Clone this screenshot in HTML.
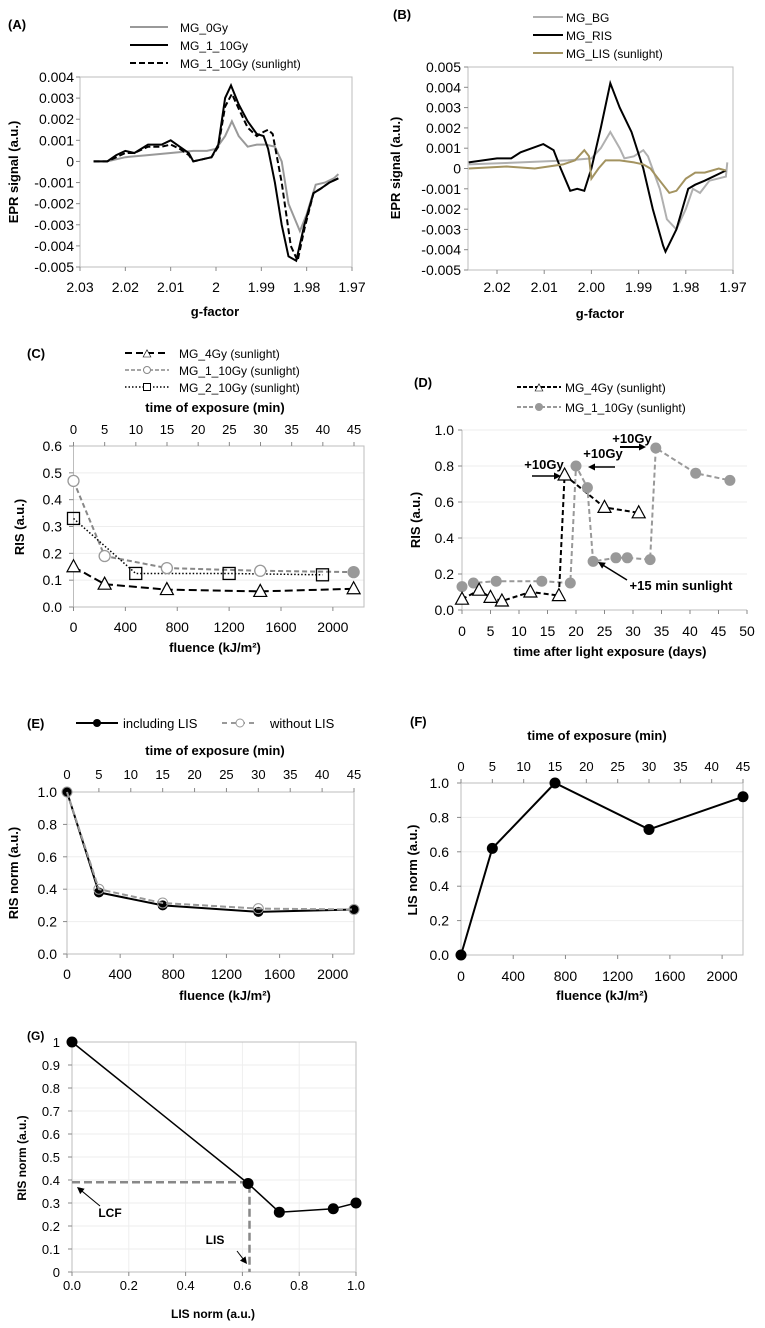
<!DOCTYPE html>
<html><head><meta charset="utf-8"><style>
html,body{margin:0;padding:0;background:#fff}
svg{display:block;font-family:"Liberation Sans Narrow","Liberation Sans",sans-serif}
</style></head><body>
<svg id="fig" width="765" height="1328" viewBox="0 0 765 1328" xmlns="http://www.w3.org/2000/svg"></svg>
<script>
// ---------- data ----------
// Panel A
const aG0 = [2.027,2.024,2.02,2.015,2.01,2.005,2.002,2.0,1.998,1.9965,1.995,1.993,1.991,1.989,1.987,1.9855,1.984,1.9815,1.98,1.978,1.976,1.974,1.973];
const aV0 = [0,0,0.0002,0.0003,0.0004,0.0005,0.0005,0.0006,0.0012,0.0019,0.0012,0.0007,0.0008,0.0008,0.0007,0.0,-0.002,-0.0033,-0.0025,-0.0011,-0.001,-0.0008,-0.0006];
const aG1 = [2.027,2.024,2.022,2.02,2.018,2.015,2.012,2.01,2.008,2.006,2.005,2.003,2.001,1.9995,1.998,1.9967,1.995,1.993,1.991,1.9895,1.9885,1.987,1.9855,1.984,1.9823,1.9805,1.9785,1.977,1.975,1.973];
const aV1 = [0,0,0.0003,0.0005,0.0004,0.0008,0.0008,0.001,0.0007,0.0004,0.0,0.0001,0.0002,0.0008,0.003,0.0036,0.0027,0.0019,0.0013,0.0012,0.0006,-0.001,-0.003,-0.0045,-0.0047,-0.003,-0.0015,-0.0013,-0.001,-0.0008];
const aG2 = [2.027,2.024,2.022,2.02,2.018,2.015,2.012,2.01,2.008,2.006,2.005,2.003,2.001,1.9995,1.998,1.9965,1.995,1.993,1.991,1.9895,1.9885,1.9875,1.9855,1.9835,1.982,1.9805,1.9785,1.977,1.975,1.973];
const aV2 = [0,0,0.0002,0.0004,0.0004,0.0007,0.0007,0.0008,0.0006,0.0003,0.0,0.0001,0.0002,0.0007,0.0026,0.0032,0.0025,0.0016,0.0012,0.0014,0.0015,0.0013,-0.001,-0.004,-0.0047,-0.0032,-0.0015,-0.0013,-0.001,-0.0008];
// Panel B
const bGbg = [2.026,2.015,2.005,2.0,1.998,1.996,1.994,1.993,1.991,1.989,1.988,1.9855,1.984,1.982,1.98,1.9785,1.977,1.975,1.9715,1.9712];
const bVbg = [0.0002,0.0003,0.0004,0.0005,0.001,0.0018,0.001,0.0005,0.0006,0.0009,0.0006,-0.001,-0.0025,-0.003,-0.002,-0.001,-0.0012,-0.0006,-0.0004,0.0003];
const bGris = [2.026,2.02,2.017,2.015,2.0102,2.008,2.0065,2.0045,2.003,2.0015,2.0,1.998,1.996,1.994,1.9915,1.989,1.987,1.9848,1.9843,1.982,1.9795,1.978,1.976,1.9715];
const bVris = [0.0003,0.0005,0.0005,0.0008,0.0012,0.0009,0.0,-0.0011,-0.001,-0.0011,0.0,0.002,0.0042,0.003,0.0018,0.0,-0.002,-0.0038,-0.0041,-0.003,-0.001,-0.0008,-0.0006,-0.0001];
const bGlis = [2.026,2.018,2.012,2.006,2.0035,2.0015,2.0005,2.0,1.9985,1.997,1.994,1.991,1.989,1.9875,1.9855,1.9835,1.982,1.98,1.978,1.976,1.973,1.9715];
const bVlis = [0,0.0001,0,0.0002,0.0004,0.0009,0.0006,-0.0005,0,0.0004,0.0004,0.0003,0.0002,0,-0.0006,-0.0012,-0.0011,-0.0005,-0.0002,-0.0002,0,-0.0001];
// Panel C
const cF4 = [0,240,720,1440,2160];
const cV4 = [0.15,0.085,0.065,0.058,0.068];
const cF1 = [0,240,720,1440,2160];
const cV1 = [0.47,0.19,0.145,0.135,0.13];
const cF2 = [0,480,1200,1920];
const cV2 = [0.33,0.125,0.125,0.12];
// Panel D
const dD4 = [0,3,5,7,12,17,18,25,31];
const dV4 = [0.06,0.11,0.07,0.05,0.10,0.08,0.75,0.57,0.54];
const dD1 = [0,2,6,14,19,20,22,23,27,29,33,34,41,47];
const dV1 = [0.13,0.15,0.16,0.16,0.15,0.80,0.68,0.27,0.29,0.29,0.28,0.90,0.76,0.72];
// Panel E
const eF = [0,240,720,1440,2160];
const eInc = [1.0,0.38,0.30,0.26,0.275];
const eWo = [1.0,0.40,0.315,0.28,0.275];
// Panel F
const fF = [0,240,720,1440,2160];
const fL = [0,0.62,1.0,0.73,0.92];
// Panel G
const gL = [0,0.62,0.73,0.92,1.0];
const gR = [1.0,0.385,0.26,0.275,0.30];
const gLcf = 0.39;
const gLis = 0.625;
// tick labels
const minTicks = [0,5,10,15,20,25,30,35,40,45];
const fluTicks = [0,400,800,1200,1600,2000];

// ---------- helpers ----------
const NS='http://www.w3.org/2000/svg';
const S=document.getElementById('fig');
function add(tag,attrs,name,parent){
  const el=document.createElementNS(NS,tag);
  for(const k in attrs) el.setAttribute(k,attrs[k]);
  
  
  (parent||S).appendChild(el);
  return el;
}
function txt(x,y,s,o,name){
  o=o||{};
  const el=add('text',{x:x,y:y,'font-size':o.size||13,'text-anchor':o.anchor||'start','font-weight':o.bold?'bold':'normal',fill:o.fill||'#000',transform:o.rot?`rotate(-90 ${x} ${y})`:'' ,'font-family':o.wide?'"Liberation Sans",sans-serif':'"Liberation Sans Narrow","Liberation Sans",sans-serif'},name);
  el.textContent=s;
  return el;
}
function lin(d0,d1,r0,r1){return v=>r0+(v-d0)*(r1-r0)/(d1-d0);}
function path(xs,ys,X,Y,st,name){
  let d='';
  xs.forEach((v,i)=>{d+=(i?'L':'M')+X(v).toFixed(1)+' '+Y(ys[i]).toFixed(1);});
  return add('path',Object.assign({d:d,fill:'none'},st),name);
}
function frame(x0,x1,y0,y1,name){
  add('rect',{x:x0,y:y1,width:x1-x0,height:y0-y1,fill:'none',stroke:'#bdbdbd','stroke-width':1},name);
}
function marker(type,x,y,st,name){
  if(type==='circle') return add('circle',Object.assign({cx:x,cy:y},st),name);
  if(type==='square') return add('rect',Object.assign({x:x-6,y:y-6,width:12,height:12},st),name);
  if(type==='tri') return add('path',Object.assign({d:`M${x} ${y-7}L${x+6.5} ${y+5}L${x-6.5} ${y+5}Z`},st),name);
}
function arrow(x1,y1,x2,y2,w,name){
  const a=Math.atan2(y2-y1,x2-x1),h=7;
  const g=add('g',{},name);
  add('line',{x1:x1,y1:y1,x2:x2-Math.cos(a)*h*0.8,y2:y2-Math.sin(a)*h*0.8,stroke:'#000','stroke-width':w},'arrow-shaft',g);
  add('path',{d:`M${x2} ${y2}L${x2-h*Math.cos(a)+h*0.5*Math.sin(a)} ${y2-h*Math.sin(a)-h*0.5*Math.cos(a)}L${x2-h*Math.cos(a)-h*0.5*Math.sin(a)} ${y2-h*Math.sin(a)+h*0.5*Math.cos(a)}Z`,fill:'#000'},'arrow-head',g);
}
function fmtE(v){ if(Math.abs(v)<1e-9) return '0'; return v.toFixed(3); }

// ---------- Panel A ----------
(function(){
  const X=lin(2.03,1.97,80,352), Y=lin(-0.005,0.004,267,77);
  txt(8,29,'(A)',{bold:true,size:13,wide:true},'panel-a-label');
  frame(80,352,267,77,'panel-a-plot-area');
  for(let i=0;i<=9;i++){const v=-0.005+i*0.001;const y=Y(v);
    add('line',{x1:76,x2:80,y1:y,y2:y,stroke:'#888'},'y-tick');
    txt(74,y+5,fmtE(v),{anchor:'end',size:14,wide:true},'y-tick-label');}
  const gx=[2.03,2.02,2.01,2.0,1.99,1.98,1.97],gl=['2.03','2.02','2.01','2','1.99','1.98','1.97'];
  gx.forEach((v,i)=>{const x=X(v);add('line',{x1:x,x2:x,y1:267,y2:271,stroke:'#888'},'x-tick');
    txt(x,292,gl[i],{anchor:'middle',size:14,wide:true},'x-tick-label');});
  txt(215,316,'g-factor',{anchor:'middle',bold:true,size:13,wide:true},'x-axis-title');
  txt(18,172,'EPR signal (a.u.)',{anchor:'middle',bold:true,size:13,rot:true,wide:true},'y-axis-title');
  path(aG0,aV0,X,Y,{stroke:'#999','stroke-width':2},'series-mg-0gy');
  path(aG2,aV2,X,Y,{stroke:'#000','stroke-width':2,'stroke-dasharray':'6 3'},'series-mg-1-10gy-sunlight');
  path(aG1,aV1,X,Y,{stroke:'#000','stroke-width':2},'series-mg-1-10gy');
  const L=[['MG_0Gy','#999',''],['MG_1_10Gy','#000',''],['MG_1_10Gy (sunlight)','#000','6 3']];
  L.forEach((l,i)=>{const y=27+i*18;
    add('line',{x1:130,x2:168,y1:y,y2:y,stroke:l[1],'stroke-width':2,'stroke-dasharray':l[2]},'legend-line');
    txt(180,y+5,l[0],{size:12,wide:true},'legend-entry');});
})();

// ---------- Panel B ----------
(function(){
  const X=lin(2.02,1.97,497,733), Y=lin(-0.005,0.005,270,67);
  txt(393,19,'(B)',{bold:true,size:13,wide:true},'panel-b-label');
  frame(468,733,270,67,'panel-b-plot-area');
  for(let i=0;i<=10;i++){const v=-0.005+i*0.001;const y=Y(v);
    add('line',{x1:464,x2:468,y1:y,y2:y,stroke:'#888'},'y-tick');
    txt(461,y+5,fmtE(v),{anchor:'end',size:14,wide:true},'y-tick-label');}
  const gx=[2.02,2.01,2.0,1.99,1.98,1.97],gl=['2.02','2.01','2.00','1.99','1.98','1.97'];
  gx.forEach((v,i)=>{const x=X(v);add('line',{x1:x,x2:x,y1:270,y2:274,stroke:'#888'},'x-tick');
    txt(x,292,gl[i],{anchor:'middle',size:14,wide:true},'x-tick-label');});
  txt(600,318,'g-factor',{anchor:'middle',bold:true,size:13,wide:true},'x-axis-title');
  txt(400,168,'EPR signal (a.u.)',{anchor:'middle',bold:true,size:13,rot:true,wide:true},'y-axis-title');
  path(bGbg,bVbg,X,Y,{stroke:'#b0b0b0','stroke-width':2},'series-mg-bg');
  path(bGris,bVris,X,Y,{stroke:'#000','stroke-width':2},'series-mg-ris');
  path(bGlis,bVlis,X,Y,{stroke:'#a39360','stroke-width':2},'series-mg-lis');
  const L=[['MG_BG','#b0b0b0'],['MG_RIS','#000'],['MG_LIS (sunlight)','#a39360']];
  L.forEach((l,i)=>{const y=17+i*18;
    add('line',{x1:533,x2:563,y1:y,y2:y,stroke:l[1],'stroke-width':2},'legend-line');
    txt(566,y+5,l[0],{size:12,wide:true},'legend-entry');});
})();

// ---------- Panel C ----------
(function(){
  const X=lin(0,2240,73.5,364), T=lin(0,45,73.5,354), Y=lin(0,0.6,607,446);
  txt(27,358,'(C)',{bold:true,size:13},'panel-c-label');
  for(let i=1;i<=6;i++){const y=Y(i*0.1);add('line',{x1:73.5,x2:364,y1:y,y2:y,stroke:'#eee'},'gridline');}
  frame(73.5,364,607,446,'panel-c-plot-area');
  for(let i=0;i<=6;i++){const v=i*0.1,y=Y(v);add('line',{x1:69,x2:73.5,y1:y,y2:y,stroke:'#888'},'y-tick');
    txt(62,y+5,v.toFixed(1),{anchor:'end',size:14},'y-tick-label');}
  fluTicks.forEach(v=>{const x=X(v);add('line',{x1:x,x2:x,y1:607,y2:611,stroke:'#888'},'x-tick');
    txt(x,632,String(v),{anchor:'middle',size:14},'x-tick-label');});
  minTicks.forEach(v=>{const x=T(v);add('line',{x1:x,x2:x,y1:446,y2:442,stroke:'#888'},'top-tick');
    txt(x,434,String(v),{anchor:'middle',size:13},'top-tick-label');});
  txt(215,412,'time of exposure (min)',{anchor:'middle',bold:true,size:13},'top-axis-title');
  txt(215,652,'fluence (kJ/m²)',{anchor:'middle',bold:true,size:13},'x-axis-title');
  txt(24,527,'RIS (a.u.)',{anchor:'middle',bold:true,size:13,rot:true,wide:true},'y-axis-title');
  path(cF1,cV1,X,Y,{stroke:'#888','stroke-width':2,'stroke-dasharray':'5 3'},'series-mg-1-10gy');
  path(cF2,cV2,X,Y,{stroke:'#000','stroke-width':1.5,'stroke-dasharray':'1.5 2'},'series-mg-2-10gy');
  path(cF4,cV4,X,Y,{stroke:'#000','stroke-width':2,'stroke-dasharray':'8 4'},'series-mg-4gy');
  cF1.forEach((v,i)=>marker('circle',X(v),Y(cV1[i]),{r:5.5,fill:i===cF1.length-1?'#999':'#fff',stroke:'#999','stroke-width':1.3},'point-mg-1-10gy'));
  cF2.forEach((v,i)=>marker('square',X(v),Y(cV2[i]),{fill:'none',stroke:'#000','stroke-width':1.3},'point-mg-2-10gy'));
  cF4.forEach((v,i)=>marker('tri',X(v),Y(cV4[i]),{fill:'#fff',stroke:'#000','stroke-width':1.2},'point-mg-4gy'));
  add('line',{x1:125,x2:169,y1:353,y2:353,stroke:'#000','stroke-width':2,'stroke-dasharray':'7 4'},'legend-line');
  marker('tri',147,354,{fill:'#fff',stroke:'#000','stroke-width':1,transform:'translate(147 354) scale(0.6) translate(-147 -354)'},'legend-marker');
  txt(179,358,'MG_4Gy (sunlight)',{size:12},'legend-entry');
  add('line',{x1:125,x2:169,y1:370,y2:370,stroke:'#888','stroke-width':1.5,'stroke-dasharray':'4 2'},'legend-line');
  marker('circle',147,370,{r:3.5,fill:'#fff',stroke:'#888'},'legend-marker');
  txt(179,375,'MG_1_10Gy (sunlight)',{size:12},'legend-entry');
  add('line',{x1:125,x2:169,y1:387,y2:387,stroke:'#000','stroke-width':1.5,'stroke-dasharray':'1.5 2'},'legend-line');
  add('rect',{x:143.5,y:383.5,width:7,height:7,fill:'#fff',stroke:'#000'},'legend-marker');
  txt(179,392,'MG_2_10Gy (sunlight)',{size:12},'legend-entry');
})();

// ---------- Panel D ----------
(function(){
  const X=lin(0,50,462,747), Y=lin(0,1,610,430);
  txt(414,387,'(D)',{bold:true,size:13},'panel-d-label');
  for(let i=1;i<=5;i++){const y=Y(i*0.2);add('line',{x1:462,x2:747,y1:y,y2:y,stroke:'#eee'},'gridline');}
  add('line',{x1:462,x2:462,y1:430,y2:610,stroke:'#bdbdbd'},'y-axis-line');
  add('line',{x1:462,x2:747,y1:610,y2:610,stroke:'#bdbdbd'},'x-axis-line');
  for(let i=0;i<=5;i++){const v=i*0.2,y=Y(v);add('line',{x1:458,x2:462,y1:y,y2:y,stroke:'#888'},'y-tick');
    txt(454,y+5,v.toFixed(1),{anchor:'end',size:14},'y-tick-label');}
  for(let v=0;v<=50;v+=5){const x=X(v);add('line',{x1:x,x2:x,y1:610,y2:614,stroke:'#888'},'x-tick');
    txt(x,636,String(v),{anchor:'middle',size:14},'x-tick-label');}
  txt(610,656,'time after light exposure (days)',{anchor:'middle',bold:true,size:13},'x-axis-title');
  txt(420,520,'RIS (a.u.)',{anchor:'middle',bold:true,size:13,rot:true,wide:true},'y-axis-title');
  path(dD1,dV1,X,Y,{stroke:'#999','stroke-width':2,'stroke-dasharray':'5 3'},'series-mg-1-10gy');
  path(dD4,dV4,X,Y,{stroke:'#000','stroke-width':2,'stroke-dasharray':'5 3'},'series-mg-4gy');
  dD1.forEach((v,i)=>marker('circle',X(v),Y(dV1[i]),{r:5.5,fill:'#999'},'point-mg-1-10gy'));
  dD4.forEach((v,i)=>marker('tri',X(v),Y(dV4[i]),{fill:'#fff',stroke:'#000','stroke-width':1.2},'point-mg-4gy'));
  add('line',{x1:517,x2:561,y1:387,y2:387,stroke:'#000','stroke-width':2,'stroke-dasharray':'4 2'},'legend-line');
  marker('tri',539,388,{fill:'#fff',stroke:'#000',transform:'translate(539 388) scale(0.6) translate(-539 -388)'},'legend-marker');
  txt(565,392,'MG_4Gy (sunlight)',{size:12},'legend-entry');
  add('line',{x1:517,x2:561,y1:407,y2:407,stroke:'#999','stroke-width':2,'stroke-dasharray':'4 2'},'legend-line');
  marker('circle',539,407,{r:4,fill:'#999'},'legend-marker');
  txt(565,412,'MG_1_10Gy (sunlight)',{size:12},'legend-entry');
  txt(544,469,'+10Gy',{anchor:'middle',bold:true,size:13},'annotation-10gy-1');
  arrow(532,476,561,476,1.5,'annotation-arrow-1');
  txt(603,458,'+10Gy',{anchor:'middle',bold:true,size:13},'annotation-10gy-2');
  arrow(615,467,588,467,1.5,'annotation-arrow-2');
  txt(632,443,'+10Gy',{anchor:'middle',bold:true,size:13},'annotation-10gy-3');
  arrow(620,447,646,447,2,'annotation-arrow-3');
  txt(681,590,'+15 min sunlight',{anchor:'middle',bold:true,size:13},'annotation-15min');
  arrow(627,580,598,562,1.5,'annotation-arrow-4');
})();

// ---------- Panel E ----------
(function(){
  const X=lin(0,2160,67,354), T=lin(0,45,67,354), Y=lin(0,1,954,792);
  txt(27,728,'(E)',{bold:true,size:13},'panel-e-label');
  for(let i=1;i<=5;i++){const y=Y(i*0.2);add('line',{x1:67,x2:354,y1:y,y2:y,stroke:'#eee'},'gridline');}
  frame(67,354,954,792,'panel-e-plot-area');
  for(let i=0;i<=5;i++){const v=i*0.2,y=Y(v);add('line',{x1:63,x2:67,y1:y,y2:y,stroke:'#888'},'y-tick');
    txt(57,y+5,v.toFixed(1),{anchor:'end',size:14},'y-tick-label');}
  fluTicks.forEach(v=>{const x=X(v);add('line',{x1:x,x2:x,y1:954,y2:958,stroke:'#888'},'x-tick');
    txt(x,979,String(v),{anchor:'middle',size:14},'x-tick-label');});
  minTicks.forEach(v=>{const x=T(v);add('line',{x1:x,x2:x,y1:792,y2:788,stroke:'#888'},'top-tick');
    txt(x,779,String(v),{anchor:'middle',size:13},'top-tick-label');});
  txt(215,755,'time of exposure (min)',{anchor:'middle',bold:true,size:13},'top-axis-title');
  txt(225,1000,'fluence (kJ/m²)',{anchor:'middle',bold:true,size:13},'x-axis-title');
  txt(18,873,'RIS norm (a.u.)',{anchor:'middle',bold:true,size:13,rot:true,wide:true},'y-axis-title');
  path(eF,eInc,X,Y,{stroke:'#000','stroke-width':2},'series-including-lis');
  eF.forEach((v,i)=>marker('circle',X(v),Y(eInc[i]),{r:5,fill:'#000'},'point-including-lis'));
  path(eF,eWo,X,Y,{stroke:'#999','stroke-width':2,'stroke-dasharray':'6 3'},'series-without-lis');
  eF.forEach((v,i)=>marker('circle',X(v),Y(eWo[i]),{r:5,fill:'none',stroke:'#999'},'point-without-lis'));
  add('line',{x1:76,x2:118,y1:723,y2:723,stroke:'#000','stroke-width':2},'legend-line');
  marker('circle',97,723,{r:4,fill:'#000'},'legend-marker');
  txt(123,728,'including LIS',{size:13},'legend-entry');
  add('line',{x1:222,x2:257,y1:723,y2:723,stroke:'#999','stroke-width':2,'stroke-dasharray':'5 4'},'legend-line');
  marker('circle',240,723,{r:4,fill:'#fff',stroke:'#999'},'legend-marker');
  txt(270,728,'without LIS',{size:13},'legend-entry');
})();

// ---------- Panel F ----------
(function(){
  const X=lin(0,2160,461,743), T=lin(0,45,461,743), Y=lin(0,1,955,783);
  txt(410,726,'(F)',{bold:true,size:13},'panel-f-label');
  for(let i=1;i<=5;i++){const y=Y(i*0.2);add('line',{x1:461,x2:743,y1:y,y2:y,stroke:'#eee'},'gridline');}
  frame(461,743,955,783,'panel-f-plot-area');
  for(let i=0;i<=5;i++){const v=i*0.2,y=Y(v);add('line',{x1:457,x2:461,y1:y,y2:y,stroke:'#888'},'y-tick');
    txt(449,y+5,v.toFixed(1),{anchor:'end',size:14},'y-tick-label');}
  fluTicks.forEach(v=>{const x=X(v);add('line',{x1:x,x2:x,y1:955,y2:959,stroke:'#888'},'x-tick');
    txt(x,981,String(v),{anchor:'middle',size:14},'x-tick-label');});
  minTicks.forEach(v=>{const x=T(v);add('line',{x1:x,x2:x,y1:783,y2:779,stroke:'#888'},'top-tick');
    txt(x,771,String(v),{anchor:'middle',size:13},'top-tick-label');});
  txt(597,740,'time of exposure (min)',{anchor:'middle',bold:true,size:13},'top-axis-title');
  txt(602,1000,'fluence (kJ/m²)',{anchor:'middle',bold:true,size:13},'x-axis-title');
  txt(417,870,'LIS norm (a.u.)',{anchor:'middle',bold:true,size:13,rot:true,wide:true},'y-axis-title');
  path(fF,fL,X,Y,{stroke:'#000','stroke-width':2},'series-lis-norm');
  fF.forEach((v,i)=>marker('circle',X(v),Y(fL[i]),{r:5.5,fill:'#000'},'point-lis-norm'));
})();

// ---------- Panel G ----------
(function(){
  const X=lin(0,1,72,356), Y=lin(0,1,1272,1042);
  txt(27,1040,'(G)',{bold:true,size:12,wide:true},'panel-g-label');
  for(let i=1;i<=10;i++){const y=Y(i*0.1);add('line',{x1:72,x2:356,y1:y,y2:y,stroke:'#eee'},'gridline');}
  for(let i=1;i<=5;i++){const x=X(i*0.2);add('line',{x1:x,x2:x,y1:1042,y2:1272,stroke:'#eee'},'gridline');}
  frame(72,356,1272,1042,'panel-g-plot-area');
  for(let i=0;i<=10;i++){const v=i*0.1,y=Y(v);add('line',{x1:68,x2:72,y1:y,y2:y,stroke:'#888'},'y-tick');
    txt(60,y+5,i===0?'0':i===10?'1':v.toFixed(1),{anchor:'end',size:13,wide:true},'y-tick-label');}
  for(let i=0;i<=5;i++){const v=i*0.2,x=X(v);add('line',{x1:x,x2:x,y1:1272,y2:1276,stroke:'#888'},'x-tick');
    txt(x,1290,v.toFixed(1),{anchor:'middle',size:13,wide:true},'x-tick-label');}
  txt(213,1318,'LIS norm (a.u.)',{anchor:'middle',bold:true,size:12,wide:true},'x-axis-title');
  txt(26,1158,'RIS norm (a.u.)',{anchor:'middle',bold:true,size:12,rot:true,wide:true},'y-axis-title');
  add('path',{d:`M${X(0)} ${Y(gLcf)}L${X(gLis)} ${Y(gLcf)}L${X(gLis)} ${Y(0)}`,fill:'none',stroke:'#888','stroke-width':2.5,'stroke-dasharray':'8 4'},'lcf-guide-line');
  path(gL,gR,X,Y,{stroke:'#000','stroke-width':1.5},'series-ris-vs-lis');
  gL.forEach((v,i)=>marker('circle',X(v),Y(gR[i]),{r:5.5,fill:'#000'},'point-ris-vs-lis'));
  txt(110,1217,'LCF',{anchor:'middle',bold:true,size:12,wide:true},'annotation-lcf');
  arrow(100,1206,77,1187,1,'annotation-lcf-arrow');
  txt(215,1244,'LIS',{anchor:'middle',bold:true,size:12,wide:true},'annotation-lis');
  arrow(237,1251,247,1264,1,'annotation-lis-arrow');
})();
</script>
</body></html>
